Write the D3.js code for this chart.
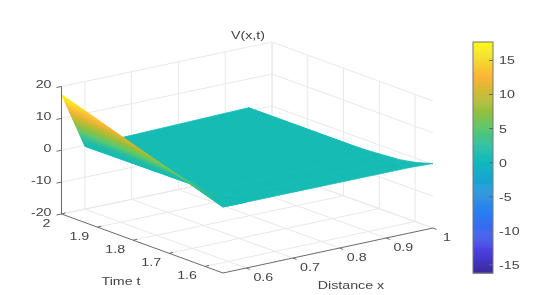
<!DOCTYPE html>
<html><head><meta charset="utf-8">
<script src="https://cdn.jsdelivr.net/npm/d3@7"></script>
<style>html,body{margin:0;padding:0;background:#fff;overflow:hidden}svg{display:block}
text{font-family:"Liberation Sans",Arial,sans-serif;fill:#444}</style></head><body>
<svg id="c" width="560" height="295"></svg>
<script>
// Data
const xGrid = [0.55, 0.6, 0.95, 1];
const tGrid = [2, 1.65, 1.6, 1.55];
const zRow200 = [17.5, -0.3, 1.0, -5.0];
const zRow165 = [4.35, 0.0, 1.0, -2.4];
const zRow160 = [2.5, 0.2, 0.5, -1.4];
const zRow155 = [0.6, 0.6, 0.6, 0.3];
const zRows = [zRow200, zRow165, zRow160, zRow155];
const xTicks = [0.6, 0.7, 0.8, 0.9, 1];
const xTickLabels = ["0.6", "0.7", "0.8", "0.9", "1"];
const tTicks = [2, 1.9, 1.8, 1.7, 1.6];
const tTickLabels = ["2", "1.9", "1.8", "1.7", "1.6"];
const zTicks = [20, 10, 0, -10, -20];
const cbTicks = [15, 10, 5, 0, -5, -10, -15];
const cmapValues = [-16.2, -13, -10, -7.5, -5, -2.5, 0, 1, 2.5, 5, 7.5, 10, 12.6, 15, 17.7];
const cmapColors = ["#3a2a9c", "#4a3fe0", "#3c66ef", "#2a7df2", "#2a8fe0", "#14a5d2", "#12b8bc", "#18bcb4", "#2abd9f", "#5cc96e", "#93bf3f", "#c8b92f", "#fdb53a", "#f5d82a", "#f9fb15"];

const svg = d3.select("#c");
const root = svg.append("g").attr("filter", "url(#soft)");
svg.append("defs").append("filter").attr("id", "soft")
  .attr("filterUnits", "userSpaceOnUse").attr("x", 0).attr("y", 0).attr("width", 560).attr("height", 295)
  .append("feGaussianBlur").attr("stdDeviation", 0.4);

const color = d3.scaleLinear().domain(cmapValues).range(cmapColors).interpolate(d3.interpolateRgb).clamp(true);

// Box projection: trilinear between box corners
const uS = d3.scaleLinear().domain([0.55, 1]).range([0, 1]);
const vS = d3.scaleLinear().domain([2, 1.55]).range([0, 1]);
const wS = d3.scaleLinear().domain([-20, 20]).range([0, 1]);
const A = [61.5, 214], B = [272, 170], C = [223, 273], D = [433, 228];
const A2 = [61.5, 86.5], B2 = [272, 42], C2 = [223, 145], D2 = [433, 101];
const L = (p, q, f) => [p[0] + (q[0] - p[0]) * f, p[1] + (q[1] - p[1]) * f];
function proj(x, t, z) {
  const u = uS(x), v = vS(t), w = wS(z);
  const lo = L(L(A, B, u), L(C, D, u), v);
  const hi = L(L(A2, B2, u), L(C2, D2, u), v);
  return L(lo, hi, w);
}
const line = d3.line();
function seg(p, q, col, wd) {
  root.append("path").attr("d", line([p, q])).attr("fill", "none").attr("stroke", col).attr("stroke-width", wd || 1);
}
const gridCol = "#e8e8e8", axisCol = "#6a6a6a";

// Walls and floor grid
xTicks.forEach(x => {
  seg(proj(x, 2, -20), proj(x, 2, 20), gridCol);
  seg(proj(x, 2, -20), proj(x, 1.55, -20), gridCol);
});
tTicks.forEach(t => {
  seg(proj(1, t, -20), proj(1, t, 20), gridCol);
  seg(proj(0.55, t, -20), proj(1, t, -20), gridCol);
});
zTicks.forEach(z => {
  seg(proj(0.55, 2, z), proj(1, 2, z), gridCol);
  seg(proj(1, 2, z), proj(1, 1.55, z), gridCol);
});

// Surface: painter's order, back cells first; shaded cells are drawn in small steps
const surfColor = z => color(Math.max(z, 1));
for (let i = xGrid.length - 2; i >= 0; i--) {
  for (let j = 0; j < tGrid.length - 1; j++) {
    const corners = [zRows[j][i], zRows[j][i + 1], zRows[j + 1][i], zRows[j + 1][i + 1]];
    const N = d3.max(corners) <= 1 ? 1 : 36;
    for (let a = N - 1; a >= 0; a--) {
      for (let b = 0; b < N; b++) {
        const zAt = (fa, fb) => {
          const z0 = zRows[j][i] + (zRows[j][i + 1] - zRows[j][i]) * fa;
          const z1 = zRows[j + 1][i] + (zRows[j + 1][i + 1] - zRows[j + 1][i]) * fa;
          return z0 + (z1 - z0) * fb;
        };
        const val = (fa, fb) => proj(
          xGrid[i] + (xGrid[i + 1] - xGrid[i]) * fa,
          tGrid[j] + (tGrid[j + 1] - tGrid[j]) * fb,
          zAt(fa, fb));
        const fa0 = a / N, fa1 = (a + 1) / N, fb0 = b / N, fb1 = (b + 1) / N;
        const c = surfColor(zAt((fa0 + fa1) / 2, (fb0 + fb1) / 2));
        root.append("path")
          .attr("d", line([val(fa0, fb0), val(fa1, fb0), val(fa1, fb1), val(fa0, fb1)]) + "Z")
          .attr("fill", c).attr("stroke", c).attr("stroke-width", 0.8);
      }
    }
  }
}

// Axes
seg(proj(0.55, 2, -20), proj(0.55, 2, 20), axisCol, 1);
seg(proj(0.55, 2, -20), proj(0.55, 1.55, -20), axisCol, 1);
seg(proj(0.55, 1.55, -20), proj(1, 1.55, -20), axisCol, 1);

function label(txt, x, y, anchor, size) {
  const s = size || 11.5;
  root.append("text").attr("text-anchor", anchor || "middle").attr("dominant-baseline", "central")
    .attr("transform", `translate(${x},${y}) scale(1.24,1)`).attr("font-size", s).text(txt);
}
zTicks.forEach(z => {
  const p = proj(0.55, 2, z);
  seg(p, [p[0] - 5, p[1] + 1], axisCol);
  label(String(z), p[0] - 10, p[1] - 2, "end");
});
tTicks.forEach((t, i) => {
  const p = proj(0.55, t, -20);
  seg(p, [p[0] + 4, p[1] - 1], axisCol);
  label(tTickLabels[i], p[0] - (i === 0 ? 15 : 18), p[1] + 9);
});
xTicks.forEach((x, i) => {
  const p = proj(x, 1.55, -20);
  seg(p, [p[0] + 3.5, p[1] + 1.5], axisCol);
  label(xTickLabels[i], p[0] + (i === 4 ? 14 : 17), p[1] + 9);
});
label("V(x,t)", 248, 35);
label("Time t", 121, 281);
label("Distance x", 351, 285);

// Colorbar
const cbY = d3.scaleLinear().domain([-16.2, 17.7]).range([273, 42]);
const cbX0 = 473, cbX1 = 493;
d3.range(-16.2, 17.7, 0.15).forEach(v => {
  root.append("rect").attr("x", cbX0).attr("width", cbX1 - cbX0)
    .attr("y", cbY(v + 0.15)).attr("height", cbY(v) - cbY(v + 0.15) + 0.5).attr("fill", color(v));
});
root.append("rect").attr("x", cbX0).attr("y", cbY(17.7)).attr("width", cbX1 - cbX0).attr("height", cbY(-16.2) - cbY(17.7))
  .attr("fill", "none").attr("stroke", "#777").attr("stroke-width", 1);
cbTicks.forEach(v => {
  seg([cbX1 - 4, cbY(v)], [cbX1, cbY(v)], "#666");
  label(String(v), 499, cbY(v), "start");
});
</script></body></html>
